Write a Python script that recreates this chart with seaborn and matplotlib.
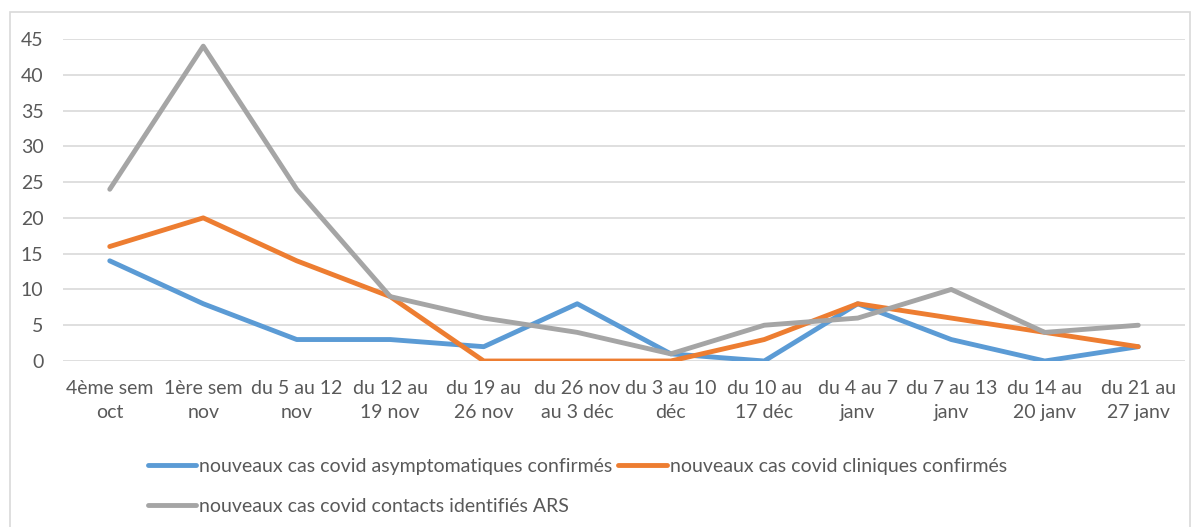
import matplotlib
matplotlib.use("Agg")
import matplotlib.pyplot as plt
import pandas as pd
import seaborn as sns
from matplotlib.patches import Rectangle

weeks = [
    "4ème sem\noct", "1ère sem\nnov", "du 5 au 12\nnov", "du 12 au\n19 nov",
    "du 19 au\n26 nov", "du 26 nov\nau 3 déc", "du 3 au 10\ndéc", "du 10 au\n17 déc",
    "du 4 au 7\njanv", "du 7 au 13\njanv", "du 14 au\n20 janv", "du 21 au\n27 janv",
]
asympto = [14, 8, 3, 3, 2, 8, 1, 0, 8, 3, 0, 2]
cliniques = [16, 20, 14, 9, 0, 0, 0, 3, 8, 6, 4, 2]
contacts = [24, 44, 24, 9, 6, 4, 1, 5, 6, 10, 4, 5]

series_names = [
    "nouveaux cas covid asymptomatiques confirmés",
    "nouveaux cas covid cliniques confirmés",
    "nouveaux cas covid contacts identifiés ARS",
]
colors = ["#5B9BD5", "#ED7D31", "#A5A5A5"]

df = pd.concat([
    pd.DataFrame({"x": range(len(weeks)), "value": vals, "serie": name})
    for name, vals in zip(series_names, [asympto, cliniques, contacts])
])

sns.set_style("white")
plt.rcParams["font.family"] = ["Lato", "DejaVu Sans"]
text_color = "#595959"
fs = 14

fig = plt.figure(figsize=(12, 5.27), dpi=100)
ax = fig.add_axes([63 / 1200, 1 - 361 / 527, 1122 / 1200, 322 / 527])

sns.lineplot(data=df, x="x", y="value", hue="serie", palette=colors,
             linewidth=3.5, ax=ax, legend=True, solid_capstyle="round")

ax.set_xlim(-0.5, len(weeks) - 0.5)
ax.set_ylim(0, 45)
ax.set_yticks(range(0, 46, 5))
ax.set_xticks(range(len(weeks)))
ax.set_xticklabels(weeks, linespacing=1.45)
ax.tick_params(axis="both", length=0, labelsize=fs, labelcolor=text_color)
ax.tick_params(axis="x", pad=14)
ax.tick_params(axis="y", pad=14)
ax.grid(axis="y", color="#D9D9D9", linewidth=1.2)
ax.set_axisbelow(True)
for s in ax.spines.values():
    s.set_visible(False)
ax.set_xlabel("")
ax.set_ylabel("")

handles, labels = ax.get_legend_handles_labels()
ax.get_legend().remove()
order = [0, 2, 1]
fig.legend([handles[i] for i in order], [labels[i] for i in order],
           loc="upper left", bbox_to_anchor=(138 / 1200, 1 - 448 / 527),
           ncol=2, frameon=False, fontsize=fs, labelcolor=text_color,
           handlelength=2.5, handletextpad=0.15, columnspacing=0.3,
           labelspacing=1.2, borderpad=0)

fig.patches.append(Rectangle((10 / 1200, -0.05), 1180 / 1200, 1 - 12 / 527 + 0.05,
                             transform=fig.transFigure, fill=False,
                             edgecolor="#D9D9D9", linewidth=1.2))

fig.savefig("out.png", dpi=100)
